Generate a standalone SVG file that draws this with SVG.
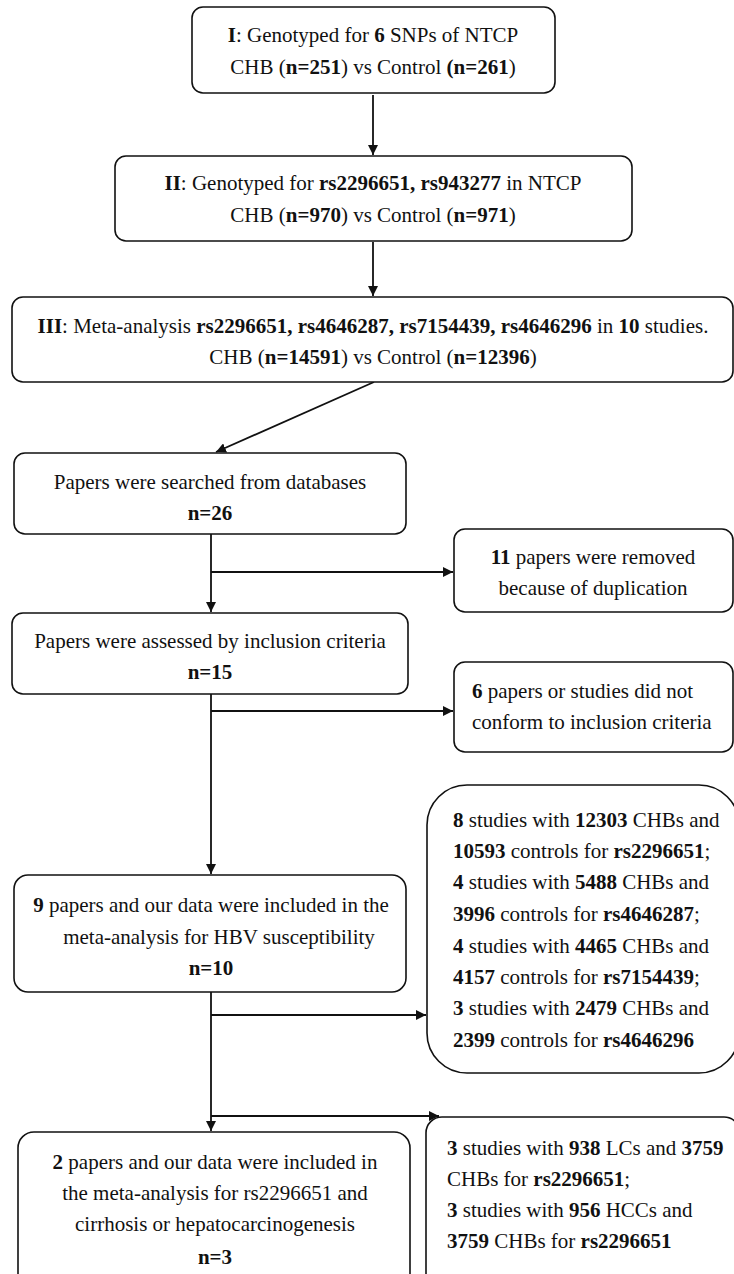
<svg xmlns="http://www.w3.org/2000/svg" width="734" height="1274" viewBox="0 0 734 1274">
<defs>
<marker id="ah" viewBox="0 0 10 10" refX="10" refY="5" markerWidth="10" markerHeight="10" markerUnits="userSpaceOnUse" orient="auto">
<path d="M0,0 L10,5 L0,10 Z" fill="#111"/>
</marker>
<style>
.box{fill:#fff;stroke:#111;stroke-width:1.6}
.c{text-anchor:middle}
.b{font-weight:bold}
.ln{fill:none;stroke:#111;stroke-width:1.8}
</style>
</defs>
<rect width="734" height="1274" fill="#fff"/>
<g id="connectors">
<line class="ln" x1="373" y1="95" x2="373" y2="155" marker-end="url(#ah)"/>
<line class="ln" x1="373" y1="242" x2="373" y2="296" marker-end="url(#ah)"/>
<line class="ln" x1="374" y1="382" x2="216" y2="452" marker-end="url(#ah)"/>
<line class="ln" x1="211" y1="534" x2="211" y2="612" marker-end="url(#ah)"/>
<line class="ln" x1="211" y1="572" x2="453" y2="572" marker-end="url(#ah)"/>
<line class="ln" x1="211" y1="694" x2="211" y2="874" marker-end="url(#ah)"/>
<line class="ln" x1="211" y1="711" x2="453" y2="711" marker-end="url(#ah)"/>
<line class="ln" x1="211" y1="992" x2="211" y2="1131" marker-end="url(#ah)"/>
<line class="ln" x1="211" y1="1015" x2="426" y2="1015" marker-end="url(#ah)"/>
<line class="ln" x1="211" y1="1116" x2="439" y2="1116" marker-end="url(#ah)"/>
</g>
<g font-family="Liberation Serif, serif" font-size="21" fill="#111">
<g id="n1">
<rect class="box" x="192" y="7" width="363" height="86" rx="11"/>
<text class="c" x="373" y="42"><tspan class="b">I</tspan>: Genotyped for <tspan class="b">6</tspan> SNPs of NTCP</text>
<text class="c" x="373" y="74">CHB (<tspan class="b">n=251</tspan>) vs Control <tspan class="b">(n=261</tspan>)</text>
</g>
<g id="n2">
<rect class="box" x="115" y="156" width="517" height="85" rx="11"/>
<text class="c" x="373" y="190"><tspan class="b">II</tspan>: Genotyped for <tspan class="b">rs2296651, rs943277</tspan> in NTCP</text>
<text class="c" x="373" y="222">CHB (<tspan class="b">n=970</tspan>) vs Control (<tspan class="b">n=971</tspan>)</text>
</g>
<g id="n3">
<rect class="box" x="12" y="297" width="721" height="85" rx="11"/>
<text class="c" x="373" y="333"><tspan class="b">III</tspan>: Meta-analysis <tspan class="b">rs2296651, rs4646287, rs7154439, rs4646296</tspan> in <tspan class="b">10</tspan> studies.</text>
<text class="c" x="373" y="364">CHB (<tspan class="b">n=14591</tspan>) vs Control (<tspan class="b">n=12396</tspan>)</text>
</g>
<g id="n4">
<rect class="box" x="14" y="453" width="392" height="81" rx="11"/>
<text class="c" x="210" y="489">Papers were searched from databases</text>
<text class="c b" x="210" y="520">n=26</text>
</g>
<g id="n5">
<rect class="box" x="454" y="529" width="279" height="83" rx="11"/>
<text class="c" x="593" y="564"><tspan class="b">11</tspan> papers were removed</text>
<text class="c" x="593" y="595">because of duplication</text>
</g>
<g id="n6">
<rect class="box" x="12" y="613" width="396" height="81" rx="11"/>
<text class="c" x="210" y="648">Papers were assessed by inclusion criteria</text>
<text class="c b" x="210" y="679">n=15</text>
</g>
<g id="n7">
<rect class="box" x="454" y="662" width="279" height="90" rx="11"/>
<text x="472" y="698"><tspan class="b">6</tspan> papers or studies did not</text>
<text x="472" y="729">conform to inclusion criteria</text>
</g>
<g id="n8">
<rect class="box" x="14" y="875" width="392" height="117" rx="14"/>
<text class="c" x="211" y="912"><tspan class="b">9</tspan> papers and our data were included in the</text>
<text class="c" x="219" y="944">meta-analysis for HBV susceptibility</text>
<text class="c b" x="211" y="975">n=10</text>
</g>
<g id="n9">
<rect class="box" x="427" y="785" width="312" height="288" rx="40"/>
<text x="453" y="827"><tspan class="b">8</tspan> studies with <tspan class="b">12303</tspan> CHBs and</text>
<text x="453" y="858"><tspan class="b">10593</tspan> controls for <tspan class="b">rs2296651</tspan>;</text>
<text x="453" y="889"><tspan class="b">4</tspan> studies with <tspan class="b">5488</tspan> CHBs and</text>
<text x="453" y="921"><tspan class="b">3996</tspan> controls for <tspan class="b">rs4646287</tspan>;</text>
<text x="453" y="953"><tspan class="b">4</tspan> studies with <tspan class="b">4465</tspan> CHBs and</text>
<text x="453" y="984"><tspan class="b">4157</tspan> controls for <tspan class="b">rs7154439</tspan>;</text>
<text x="453" y="1015"><tspan class="b">3</tspan> studies with <tspan class="b">2479</tspan> CHBs and</text>
<text x="453" y="1047"><tspan class="b">2399</tspan> controls for <tspan class="b">rs4646296</tspan></text>
</g>
<g id="n10">
<rect class="box" x="18" y="1132" width="392" height="160" rx="16"/>
<text class="c" x="215" y="1169"><tspan class="b">2</tspan> papers and our data were included in</text>
<text class="c" x="215" y="1200">the meta-analysis for rs2296651 and</text>
<text class="c" x="215" y="1231">cirrhosis or hepatocarcinogenesis</text>
<text class="c b" x="215" y="1264">n=3</text>
</g>
<g id="n11">
<rect class="box" x="426" y="1117" width="314" height="175" rx="16"/>
<text x="447" y="1155"><tspan class="b">3</tspan> studies with <tspan class="b">938</tspan> LCs and <tspan class="b">3759</tspan></text>
<text x="447" y="1186">CHBs for <tspan class="b">rs2296651</tspan>;</text>
<text x="447" y="1217"><tspan class="b">3</tspan> studies with <tspan class="b">956</tspan> HCCs and</text>
<text x="447" y="1248"><tspan class="b">3759</tspan> CHBs for <tspan class="b">rs2296651</tspan></text>
</g>
</g>
</svg>
